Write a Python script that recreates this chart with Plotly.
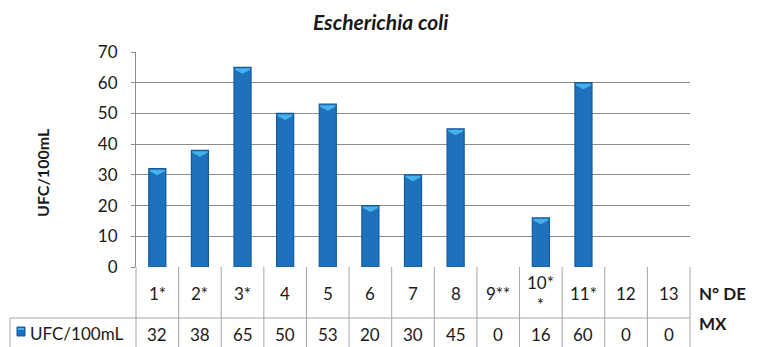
import plotly.graph_objects as go

categories = ["1*", "2*", "3*", "4", "5", "6", "7", "8", "9**", "10**", "11*", "12", "13"]
tick_labels = ["1*", "2*", "3*", "4", "5", "6", "7", "8", "9**", "10*<br>*", "11*", "12", "13"]
values = [32, 38, 65, 50, 53, 20, 30, 45, 0, 16, 60, 0, 0]
series_name = "UFC/100mL"
y_ticks = [0, 10, 20, 30, 40, 50, 60, 70]

W, H = 760, 347
L, R, T, B = 136, 690, 52, 267
pw, ph = R - L, B - T

def px(x):
    return (x - L) / pw

def py(y):
    return (B - y) / ph

FONT = "Lato, Carlito, 'Open Sans', sans-serif"
TXT = "#1a1a1a"
GRID = "#8c8c8c"
TBL = "#a6a6a6"

fig = go.Figure()
fig.add_trace(go.Bar(
    x=categories, y=values, width=0.4, name=series_name,
    marker=dict(color="#1e72bd",
                line=dict(color="#14599a", width=[1.2 if v > 0 else 0 for v in values])),
    showlegend=False, hoverinfo="x+y",
))

shapes = []
# light cap on top of each bar
for i, v in enumerate(values):
    if v > 0:
        shapes.append(dict(
            type="path", xref="x", yref="y", xsizemode="pixel", ysizemode="pixel",
            xanchor=i, yanchor=v,
            path="M -7.5,-1 L 7.5,-1 L 7.5,-2.5 L 0,-6.5 L -7.5,-2.5 Z",
            fillcolor="#45b3ea", line=dict(width=0), layer="above",
        ))

n = len(categories)
y_top = py(267)
y_mid = py(318)
y_bot = py(350)
# table vertical lines
for k in range(n + 1):
    xk = k / n
    shapes.append(dict(type="line", xref="paper", yref="paper", x0=xk, x1=xk,
                       y0=y_top, y1=y_bot, line=dict(color=TBL, width=1)))
# left border of value row
shapes.append(dict(type="line", xref="paper", yref="paper", x0=px(10), x1=px(10),
                   y0=y_mid, y1=y_bot, line=dict(color=TBL, width=1)))
# horizontal line between header and value row
shapes.append(dict(type="line", xref="paper", yref="paper", x0=px(10), x1=1,
                   y0=y_mid, y1=y_mid, line=dict(color=TBL, width=1)))
# legend key in table
shapes.append(dict(type="rect", xref="paper", yref="paper", x0=px(17), x1=px(25),
                   y0=py(336), y1=py(327), fillcolor="#1e72bd",
                   line=dict(color="#14599a", width=1)))
shapes.append(dict(type="rect", xref="paper", yref="paper", x0=px(18), x1=px(24),
                   y0=py(330), y1=py(328), fillcolor="#45b3ea", line=dict(width=0)))

annotations = []
for i, (lab, v) in enumerate(zip(tick_labels, values)):
    annotations.append(dict(x=i, y=py(293), xref="x", yref="paper", text=lab,
                            showarrow=False, font=dict(size=17, color=TXT, family=FONT),
                            yanchor="middle", xanchor="center"))
    annotations.append(dict(x=i, y=py(334), xref="x", yref="paper", text=str(v),
                            showarrow=False, font=dict(size=17, color=TXT, family=FONT),
                            yanchor="middle", xanchor="center"))
annotations.append(dict(x=px(28), y=py(333), xref="paper", yref="paper", text=series_name,
                        showarrow=False, font=dict(size=17, color=TXT, family=FONT),
                        xanchor="left", yanchor="middle"))
annotations.append(dict(x=px(697), y=py(293), xref="paper", yref="paper", text="<b>N° DE</b>",
                        showarrow=False, font=dict(size=17, color=TXT, family=FONT),
                        xanchor="left", yanchor="middle"))
annotations.append(dict(x=px(697), y=py(323), xref="paper", yref="paper", text="<b>MX</b>",
                        showarrow=False, font=dict(size=17, color=TXT, family=FONT),
                        xanchor="left", yanchor="middle"))
annotations.append(dict(x=px(381), y=py(22), xref="paper", yref="paper",
                        text="<b><i>Escherichia coli</i></b>",
                        showarrow=False, font=dict(size=21, color=TXT, family=FONT),
                        xanchor="center", yanchor="middle"))
annotations.append(dict(x=px(42), y=py(173), xref="paper", yref="paper",
                        text="<b>UFC/100mL</b>", textangle=-90,
                        showarrow=False, font=dict(size=16, color=TXT, family=FONT),
                        xanchor="center", yanchor="middle"))

fig.update_layout(
    width=W, height=H,
    margin=dict(l=L, r=W - R, t=T, b=H - B, pad=0),
    paper_bgcolor="white", plot_bgcolor="white",
    font=dict(family=FONT, color=TXT, size=17),
    shapes=shapes, annotations=annotations,
    bargap=0.6,
    xaxis=dict(type="category", categoryorder="array", categoryarray=categories,
               range=[-0.5, n - 0.5], showticklabels=False, ticks="",
               showgrid=False, showline=False, zeroline=False, fixedrange=True),
    yaxis=dict(range=[0, 70], tickvals=y_ticks, showgrid=True, gridcolor=GRID, gridwidth=1,
               showline=True, linecolor=GRID, linewidth=1, ticks="outside", ticklen=4,
               tickcolor=GRID, zeroline=False, ticklabelstandoff=10,
               tickfont=dict(size=17, color=TXT, family=FONT), fixedrange=True),
)

fig.write_html("out.html", config={"displayModeBar": False})

# remove the default page margin so the figure fills the window exactly
with open("out.html", encoding="utf-8") as f:
    html = f.read()
html = html.replace("<head>", "<head><style>html,body{margin:0;padding:0;overflow:hidden;}</style>", 1)
with open("out.html", "w", encoding="utf-8") as f:
    f.write(html)
